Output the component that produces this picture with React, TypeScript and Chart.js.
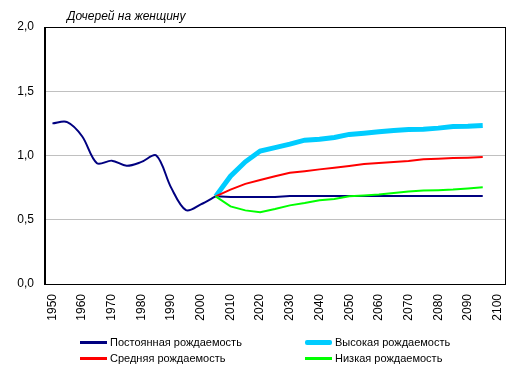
import React, { useEffect, useRef } from "react";
import { Chart, registerables } from "chart.js";

Chart.register(...registerables);

const years: number[] = [];
for (let y = 1950; y <= 2100; y += 5) years.push(y);

const historical = [1.25, 1.26, 1.15, 0.94, 0.96, 0.92, 0.95, 1.0, 0.75, 0.575, 0.62, 0.682];
const constantProj = [0.682, 0.677, 0.677, 0.677, 0.677, 0.685, 0.685, 0.685, 0.685, 0.685, 0.685, 0.685, 0.685, 0.685, 0.685, 0.685, 0.685, 0.685, 0.685];
const highProj = [0.682, 0.839, 0.951, 1.035, 1.061, 1.088, 1.119, 1.127, 1.14, 1.164, 1.174, 1.184, 1.195, 1.202, 1.204, 1.213, 1.226, 1.228, 1.234];
const mediumProj = [0.682, 0.735, 0.779, 0.81, 0.839, 0.865, 0.878, 0.892, 0.904, 0.918, 0.933, 0.941, 0.949, 0.957, 0.97, 0.975, 0.98, 0.983, 0.988];
const lowProj = [0.682, 0.604, 0.573, 0.559, 0.583, 0.612, 0.63, 0.651, 0.661, 0.682, 0.688, 0.696, 0.708, 0.719, 0.727, 0.73, 0.735, 0.743, 0.753];

const seriesNames = ["Постоянная рождаемость", "Высокая рождаемость", "Средняя рождаемость", "Низкая рождаемость"];
const seriesColors = ["#000080", "#00ccff", "#ff0000", "#00ff00"];
const seriesWidths = [2, 5, 2, 2];
const yTicks = [0, 0.5, 1.0, 1.5, 2.0];
const yTitle = "Дочерей на женщину";

const projStart = 11; // index of 2005

function padHist(arr: number[]) {
  return years.map((_, i) => (i < arr.length ? arr[i] : null));
}
function padProj(arr: number[]) {
  return years.map((_, i) => (i >= projStart && i - projStart < arr.length ? arr[i - projStart] : null));
}

const framePlugin = {
  id: "frame",
  afterDraw(chart: any) {
    const { ctx, chartArea } = chart;
    ctx.save();
    ctx.strokeStyle = "#000";
    ctx.lineWidth = 1;
    ctx.strokeRect(chartArea.left + 0.5, chartArea.top + 0.5, chartArea.right - chartArea.left, chartArea.bottom - chartArea.top);
    ctx.lineWidth = 2;
    ctx.beginPath();
    ctx.moveTo(chartArea.left, chartArea.top);
    ctx.lineTo(chartArea.left, chartArea.bottom + 1);
    ctx.stroke();
    ctx.restore();
  },
};

export default function App() {
  const ref = useRef<HTMLCanvasElement>(null);
  useEffect(() => {
    const font = "Arial, 'Liberation Sans', sans-serif";
    const chart = new Chart(ref.current!, {
      type: "line",
      data: {
        labels: years.map(String),
        datasets: [
          { label: seriesNames[3], data: padProj(lowProj), borderColor: seriesColors[3], borderWidth: seriesWidths[3], pointRadius: 0, tension: 0 },
          { label: seriesNames[2], data: padProj(mediumProj), borderColor: seriesColors[2], borderWidth: seriesWidths[2], pointRadius: 0, tension: 0 },
          { label: seriesNames[1], data: padProj(highProj), borderColor: seriesColors[1], borderWidth: seriesWidths[1], pointRadius: 0, tension: 0 },
          { label: seriesNames[0], data: padProj(constantProj), borderColor: seriesColors[0], borderWidth: seriesWidths[0], pointRadius: 0, tension: 0 },
          { label: seriesNames[0] + " (история)", data: padHist(historical), borderColor: seriesColors[0], borderWidth: seriesWidths[0], pointRadius: 0, tension: 0.33 },
        ],
      },
      options: {
        responsive: false,
        animation: false,
        layout: { padding: { left: 0, top: 27, right: 14, bottom: 46 } },
        plugins: { legend: { display: false }, tooltip: { enabled: false } },
        scales: {
          x: {
            offset: true,
            grid: { display: false, drawTicks: false },
            border: { display: false },
            afterFit: (s: any) => { s.height = 45; s.paddingLeft = 0; s.paddingRight = 0; },
            ticks: {
              autoSkip: false,
              maxRotation: 90,
              minRotation: 90,
              padding: 10,
              color: "#000",
              font: { family: font, size: 12 },
              callback: (_v: any, i: number) => (years[i] % 10 === 0 ? String(years[i]) : ""),
            },
          },
          y: {
            min: 0,
            max: 2,
            afterFit: (s: any) => { s.width = 45; s.paddingTop = 0; s.paddingBottom = 0; },
            afterBuildTicks: (s: any) => { s.ticks = yTicks.map((v) => ({ value: v })); },
            grid: { color: "#c0c0c0", lineWidth: 1, drawTicks: false },
            border: { display: false },
            ticks: {
              padding: 11,
              color: "#000",
              font: { family: font, size: 12 },
              callback: (v: any) => Number(v).toFixed(1).replace(".", ","),
            },
          },
        },
      },
      plugins: [framePlugin],
    });
    return () => chart.destroy();
  }, []);

  const legendItem = (i: number, left: number, top: number) => (
    <div key={i} style={{ position: "absolute", left, top, display: "flex", alignItems: "center", height: 14 }}>
      <div style={{ width: 27, height: seriesWidths[i] + (i === 1 ? 0 : 1), background: seriesColors[i], borderRadius: i === 1 ? 2 : 0 }} />
      <span style={{ marginLeft: 3, fontSize: 11, color: "#000", whiteSpace: "nowrap" }}>{seriesNames[i]}</span>
    </div>
  );

  return (
    <div style={{ position: "absolute", left: 0, top: 0, width: 519, height: 375, background: "#fff", fontFamily: "Arial, 'Liberation Sans', sans-serif" }}>
      <canvas ref={ref} width={519} height={375} style={{ position: "absolute", left: 0, top: 0 }} />
      <div style={{ position: "absolute", left: 67, top: 9, fontSize: 12, fontStyle: "italic", color: "#000", whiteSpace: "nowrap" }}>{yTitle}</div>
      {legendItem(0, 80, 335)}
      {legendItem(1, 305, 335)}
      {legendItem(2, 80, 351)}
      {legendItem(3, 305, 351)}
    </div>
  );
}
